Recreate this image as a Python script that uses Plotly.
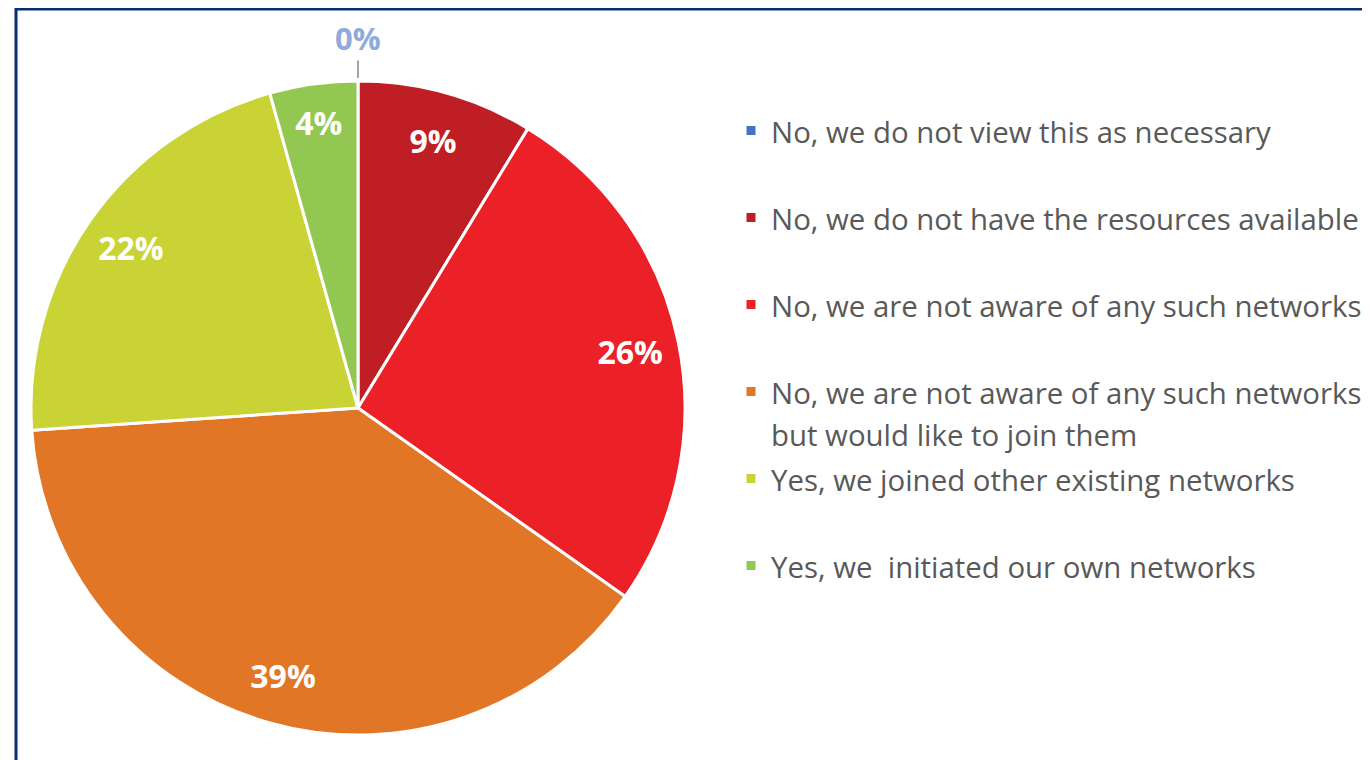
import plotly.graph_objects as go

labels = [
    "No, we do not view this as necessary",
    "No, we do not have the resources available",
    "No, we are not aware of any such networks",
    "No, we are not aware of any such networks<br>but would like to join them",
    "Yes, we joined other existing networks",
    "Yes, we  initiated our own networks",
]
counts = [0, 2, 6, 9, 5, 1]
colors = ["#4472C4", "#BE1E24", "#EC2027", "#E07626", "#C9D336", "#92C852"]

W, H = 1370, 760
OFF = 8  # page body margin, shift everything up/left by this much

# pie box in page pixels (left, top, right, bottom)
PIE = (31, 81, 685, 735)
dom_x = [(PIE[0] - OFF) / W, (PIE[2] - OFF) / W]
dom_y = [1 - (PIE[3] - OFF) / H, 1 - (PIE[1] - OFF) / H]

# each legend entry gets 2 lines so spacing matches the excel layout
legend_labels = []
for lab in labels:
    txt = lab if "<br>" in lab else lab + "<br> "
    legend_labels.append("<span style='font-size:29.4px'>%s</span>" % txt)

fig = go.Figure()

# coloured slices + legend
fig.add_trace(go.Pie(
    labels=legend_labels,
    values=counts,
    sort=False,
    direction="clockwise",
    rotation=0,
    marker=dict(colors=colors, line=dict(color="white", width=3)),
    textinfo="none",
    domain=dict(x=dom_x, y=dom_y),
    hoverinfo="label+percent",
))

# transparent ring on top, only used to put the % labels near the rim
fig.add_trace(go.Pie(
    labels=legend_labels,
    values=counts,
    sort=False,
    direction="clockwise",
    rotation=0,
    hole=0.7,
    marker=dict(colors=["rgba(0,0,0,0)"] * len(counts), line=dict(width=0)),
    texttemplate="%{percent:.0%}",
    textposition=["none"] + ["inside"] * (len(counts) - 1),
    insidetextorientation="horizontal",
    insidetextfont=dict(family="Open Sans", size=32, color="white", weight="bold"),
    domain=dict(x=dom_x, y=dom_y),
    showlegend=False,
    hoverinfo="skip",
))

# the 0% slice has no area, label it above the top with a leader line
zero_pct = "%d%%" % round(100 * counts[0] / sum(counts))
fig.add_annotation(
    x=(dom_x[0] + dom_x[1]) / 2, y=dom_y[1] + 3 / H,
    xref="paper", yref="paper",
    text="<b>%s</b>" % zero_pct,
    font=dict(family="Open Sans", size=31, color="#8FAADC"),
    showarrow=True, arrowhead=0, arrowwidth=2, arrowcolor="#A6A6A6",
    ax=0, ay=-40, standoff=0, startstandoff=0,
)

fig.update_layout(
    width=W, height=H,
    margin=dict(l=0, r=0, t=0, b=0),
    paper_bgcolor="white",
    font=dict(family="Open Sans", color="#595959"),
    legend=dict(
        x=723 / W, xanchor="left", y=1 - 95 / H, yanchor="top",
        valign="top",
        font=dict(family="Open Sans", size=32.3, color="#595959"),
        bgcolor="rgba(0,0,0,0)",
    ),
    shapes=[dict(type="rect", xref="paper", yref="paper",
                 x0=(16 - OFF) / W, x1=1.02, y0=-0.02, y1=1 - 1 / H,
                 line=dict(color="#0B2E6F", width=3))],
)

fig.write_html("out.html")
